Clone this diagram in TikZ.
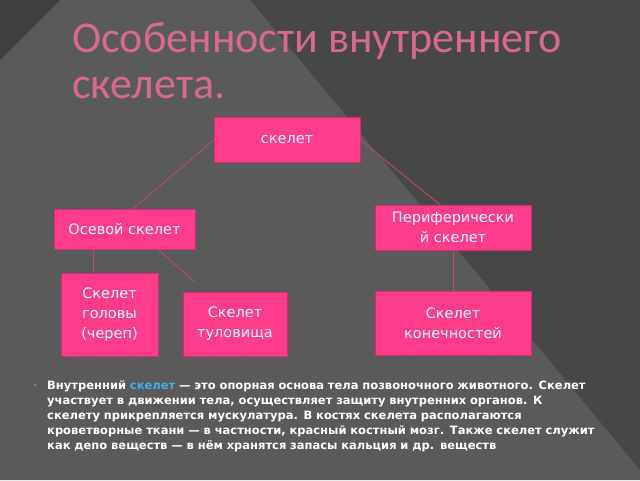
\documentclass[tikz,border=0pt]{standalone}
\usepackage{fontspec}
\setmainfont{DejaVu Sans}
\newfontfamily\titlefont{Carlito}
\usetikzlibrary{positioning}
\definecolor{boxpink}{HTML}{FF3C8C}
\definecolor{linkpink}{HTML}{C04C72}
\definecolor{titlepink}{HTML}{D86A8C}
\definecolor{linkblue}{HTML}{3CB4E6}
\definecolor{bgdark}{HTML}{474747}
\definecolor{bglight}{HTML}{5A5A5A}
\tikzset{
  box/.style={draw=boxpink!80!black, fill=boxpink, text=white, align=center,
    font=\fontsize{14.5}{20}\selectfont, inner sep=0pt},
  link/.style={draw=linkpink, thick}
}
\begin{document}
\begin{tikzpicture}[x=1pt, y=-1pt]
  \useasboundingbox (0,0) rectangle (640,480);
  \fill[bgdark] (0,0) rectangle (640,480);
  \fill[bglight] (0,0) -- (250,0) -- (640,470) -- (640,480) -- (0,480) -- cycle;
  \fill[bgdark!90!black] (0,0) -- (60,0) -- (0,60) -- cycle;

  \node[anchor=north west, text=titlepink, align=left, font=\titlefont\fontsize{44}{46}\selectfont, inner sep=0pt]
    (title) at (72,22) {Особенности внутреннего\\скелета.};

  \node[box, minimum width=146, minimum height=45] (sk) at (287,140) {скелет};
  \node[box, minimum width=141, minimum height=40] (os) at (124.5,229) {Осевой скелет};
  \node[box, minimum width=156, minimum height=45] (pf) at (453,227.5) {Периферически\\й скелет};
  \node[box, minimum width=97, minimum height=83] (gl) at (109.5,314.5) {Скелет\\головы\\(череп)};
  \node[box, minimum width=104, minimum height=64] (tl) at (235,324) {Скелет\\туловища};
  \node[box, minimum width=156, minimum height=64] (kn) at (453,323) {Скелет\\конечностей};
  \coordinate (tlend) at (195,282);

  \draw[link] (sk.west) -- (os.north -| 133,0);
  \draw[link] (sk.east) -- (pf.north -| 440,0);
  \draw[link] (os.south -| 93,0) -- (gl.north -| 93,0);
  \draw[link] (os.south -| 158,0) -- (tlend);
  \draw[link] (pf.south) -- (kn.north);

  \node[anchor=north west, text=titlepink, font=\fontsize{8}{8}\selectfont, inner sep=0pt] (bul) at (33,384) {•};
  \node[anchor=north west, text=white, align=left, text width=590,
    font=\bfseries\fontsize{11.5}{15}\selectfont, inner sep=0pt] (txt) at (47,380)
    {Внутренний {\color{linkblue}скелет} — это опорная основа тела позвоночного животного. Скелет\\
     участвует в движении тела, осуществляет защиту внутренних органов. К\\
     скелету прикрепляется мускулатура. В костях скелета располагаются\\
     кроветворные ткани — в частности, красный костный мозг. Также скелет служит\\
     как депо веществ — в нём хранятся запасы кальция и др. веществ};
\end{tikzpicture}
\end{document}
